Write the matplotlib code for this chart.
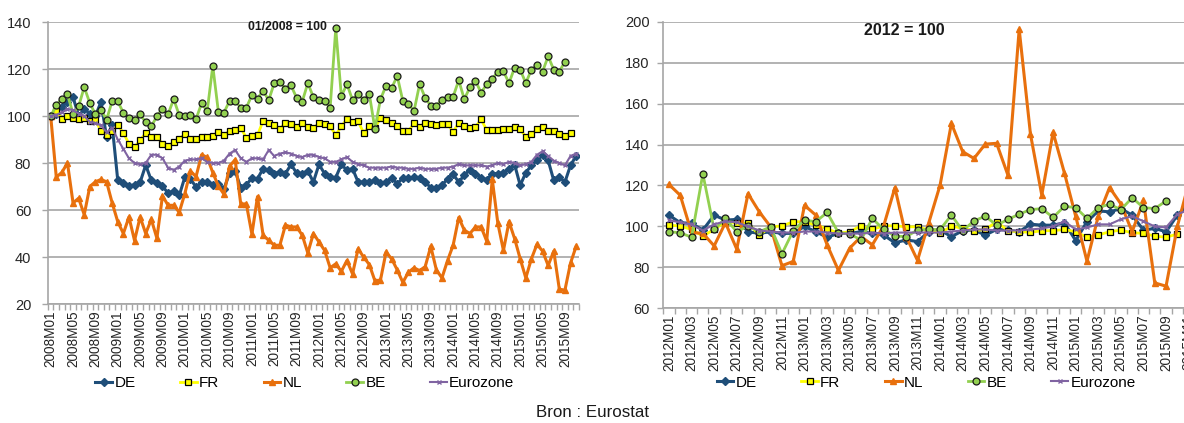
"""
Index chart: DE, FR, NL, BE, Eurozone (links 01/2008 = 100, rechts 2012 = 100)
"""

import numpy as np
import pandas as pd
import matplotlib
matplotlib.use("Agg")
import matplotlib.pyplot as plt
from matplotlib import font_manager

# --- data links: 2008M01 - 2015M11 ---
months_left = [p.strftime("%YM%m") for p in pd.period_range("2008-01", "2015-11", freq="M")]

de_left = [100, 101, 104, 106, 108, 100, 103, 101, 100, 106, 91, 96,
           72.6, 71.5, 70.1, 70.8, 71.8, 79.1, 72.6, 71.5, 70.1, 67.2, 68.1, 66.2,
           74.0, 73.2, 69.8, 71.8, 71.8, 70.5, 71.2, 69.0, 75.7, 76.6, 69.5, 70.8,
           73.5, 73.3, 77.6, 76.9, 75.5,
           76.2, 75.5, 79.4, 75.7, 75.5, 76.6, 71.9, 79.4, 75.5, 74.0, 73.8, 79.4,
           76.9, 77.6, 71.9, 71.9, 71.9, 72.6, 71.5, 71.9, 73.6, 71.2, 73.6, 73.6,
           74.0, 73.8, 71.9, 69.5, 69.5, 70.5, 73.3, 75.2, 71.9, 74.8, 77.2, 75.2,
           73.8, 72.9, 75.5, 75.5, 75.9, 77.6, 79.3, 70.5, 75.9, 79.0, 81.1, 83.3,
           81.1, 72.6, 74.0, 71.9, 79.0, 83.0]
fr_left = [100, 102, 98.9, 100, 99.3, 98.6, 99.3, 97.9, 98.2, 93.6, 92.1, 93.6,
           96.2, 92.8, 88.2, 86.8, 89.6, 92.8, 91.2, 91.1, 88.2, 87.2, 88.9, 90.4,
           92.2, 90.4, 90.2, 91.1, 91.2, 91.6, 93.3, 92.1, 93.5, 94.2, 94.9, 90.8,
           91.3, 91.8, 98.0, 97.0, 96.0,
           94.6, 97.2, 96.7, 95.3, 97.2, 95.3, 94.8, 97.0, 96.7, 95.6, 91.9, 95.6,
           98.7, 97.3, 97.7, 92.8, 95.7, 94.9, 99.0, 98.4, 96.9, 95.7, 93.5, 93.5,
           96.9, 95.3, 97.2, 96.5, 96.3, 96.5, 96.5, 93.3, 97.0, 95.7, 94.9, 95.3,
           98.6, 94.0, 94.0, 94.0, 94.6, 94.5, 95.2, 94.3, 91.2, 92.2, 94.3, 95.2,
           93.8, 93.5, 92.3, 91.5, 92.8]
nl_left = [100, 74, 76, 80, 63, 65, 58, 70, 72, 73, 72, 63,
           55, 50, 57, 47, 57, 50, 56, 48, 66, 62, 62, 59,
           67, 76.6, 74.2, 83.5, 82.4, 75.9, 70.2, 66.7, 78.7, 81.4, 62.6, 62.6,
           49.7, 65.7, 49.3, 47.1, 45,
           45, 53.6, 52.8, 52.8, 49.3, 41.7, 50, 46.4, 42.8, 35.4, 37.1, 33.9,
           38.5, 32.8, 43.5, 39.9, 36.8, 29.9, 30.2, 42.1, 39.2, 34.5, 29.2, 33.5,
           35.4, 34.2, 35.9, 44.5, 34.5, 31.1, 38.5, 45, 56.8, 51.4, 50, 52.8,
           52.8, 46.8, 73, 54.3, 42.8, 55, 47.8, 39.2, 31.1, 39.2, 45.4, 42.5,
           36.4, 42.5, 26.3, 25.9, 37.4, 44.5]
be_left = [100, 104.5, 107.4, 109.2, 101, 104.1, 112.3, 105.5, 100.7, 102.7, 98.4, 106.4,
           106.2, 101.4, 99.3, 98.4, 100.7, 97.3, 95.6, 99.9, 103.1, 100.7, 107.2, 100.3,
           100.1, 100.6, 98.7, 105.4, 102.1, 121.3, 101.8, 101.4, 106.5, 106.5, 103.5, 103.5,
           108.9, 107.4, 110.8, 106.7, 114.0, 114.6, 111.6, 113.0, 107.7, 106.1, 114.0, 108.0,
           106.9, 106.2, 103.5, 137.3, 108.4, 113.6, 106.8, 109.4, 106.8, 109.4, 94.6, 107.1,
           112.9, 111.9, 117.0, 106.4, 105.2, 102.1, 113.5, 107.8, 104.3, 104.3, 107.0, 108.0,
           108.2, 115.2, 107.1, 112.3, 115.0, 109.9, 113.5, 115.9, 118.7, 119.0, 114.0, 120.6,
           119.7, 114.0, 119.7, 121.6, 118.9, 125.4, 119.7, 118.9, 123.1]
ez_left = [100, 100.5, 101.5, 103, 102.5, 101, 100, 97.5, 97, 96, 93, 95,
           90, 86, 82, 80, 79.5, 80, 83.5, 83.5, 82, 78, 77, 78.5,
           81, 81.5, 81.5, 82, 80.5, 80, 80, 81, 84, 85.5, 82, 80.5,
           82, 82, 81.5, 85.5, 83,
           84, 84.5, 84, 83, 82.5, 83.5, 83.5, 82.5, 82, 80.5, 80.5, 81.5,
           82.5, 80.5, 79.5, 79, 78, 78, 78, 78, 78.5, 78, 78, 77.5,
           77.5, 78, 77.5, 77.5, 77.5, 78, 78, 78.5, 79.5, 79, 79, 79,
           79, 78.5, 79, 80, 79.5, 80.5, 80, 79, 79.5, 80.5, 83.5, 85,
           83, 81, 80, 79, 83, 84]

# --- data rechts: 2012M01 - 2015M11 ---
months_right = [p.strftime("%YM%m") for p in pd.period_range("2012-01", "2015-11", freq="M")]

de_right = [105.5, 101.8, 101.5, 98.2, 105.5, 103.1, 103.4, 97.4, 96.6, 97.4, 96.6, 96.6,
            100, 97.4, 94.7, 96.6, 96.6, 97.4, 96.6, 95.8, 92.0, 93.4, 92.6, 97.4,
            98.2, 95, 97.9, 98.2, 95.8, 98.5, 98.2, 97.4, 101.1, 100.6, 100.6, 101.8,
            93.1, 102.3, 107.6, 107.1, 108.7, 105.5, 98.2, 99, 97.4, 105.5, 111]
fr_right = [100.6, 100.2, 98.5, 95.3, 98.5, 102.3, 101.8, 101.5, 95.8, 99.8, 100.2, 102.3,
            102.3, 100.6, 98.9, 96.6, 97.4, 100.3, 98.5, 100.3, 100.3, 99.8, 99.8, 98.2,
            96.6, 100.2, 99, 97.9, 98.5, 102.3, 97.9, 97.4, 97.1, 97.9, 97.9, 98.5,
            97.4, 94.7, 95.8, 97.4, 98.2, 96.9, 96.6, 95.3, 94.7, 96.3]
nl_right = [120.5, 115.2, 97, 96.6, 90.5, 101.8, 88.9, 116, 107.1, 99.8, 80.8, 82.9,
            110.3, 105.5, 91, 78.5, 89.4, 95, 91, 100.2, 118.9, 95, 83.4, 101.8,
            120.2, 150.3, 136.5, 133.2, 140.2, 140.6, 125.1, 196.3, 145, 115.3, 145.9, 126.2,
            105, 83, 105, 119, 111, 97.4, 112.7, 72.4, 70.8, 100, 121]
be_right = [97.4, 96.9, 94.7, 125.7, 98.5, 103.9, 97.4, 100.2, 97.4, 99.8, 86.6, 97.9,
            103.1, 102.3, 106.8, 96.9, 96.3, 93.4, 103.9, 98.5, 95.3, 95, 98.2, 98.5,
            98.5, 105.5, 97.9, 102.7, 105, 100.6, 103.4, 106, 108.2, 108.7, 104.4, 109.8,
            109.2, 103.9, 109.2, 110.8, 108.2, 114, 109.2, 108.7, 112.4]
ez_right = [103, 102, 101, 98, 101, 102.5, 102, 100, 98, 97.5, 97, 97,
            97.5, 97.5, 97, 96.5, 96.5, 96.5, 97, 96.5, 97, 97, 97, 97,
            97, 97.5, 98, 98.5, 98.5, 98, 98, 98, 98.5, 99, 100, 102.5,
            98.5, 99.5, 101, 101, 103.5, 105, 102.5, 100, 99.5, 106, 108]

series_names = ["DE", "FR", "NL", "BE", "Eurozone"]

# stijl per reeks
styles = {
    "DE": dict(color="#1f4e79", marker="D", mfc="#1f4e79", mec="#1f4e79", lw=2.2, ms=3.6),
    "FR": dict(color="#ffff00", marker="s", mfc="#ffff00", mec="#000000", lw=2.0, ms=5.0),
    "NL": dict(color="#e8700d", marker="^", mfc="#e8700d", mec="#e8700d", lw=2.2, ms=5.0),
    "BE": dict(color="#92d050", marker="o", mfc="#92d050", mec="#1a1a1a", lw=2.0, ms=5.0),
    "Eurozone": dict(color="#8064a2", marker="x", mfc="#8064a2", mec="#8064a2", lw=1.5, ms=3.5),
}

available = {f.name for f in font_manager.fontManager.ttflist}
NARROW = "Liberation Sans Narrow" if "Liberation Sans Narrow" in available else "Liberation Sans"
plt.rcParams["font.family"] = [NARROW, "DejaVu Sans"]

GRID = "#a6a6a6"
TXT = "#262626"


def style_axes(ax, n, step, ymin, ymax, ystep, ypad):
    ax.set_xlim(-0.5, n - 0.5)
    ax.set_ylim(ymin, ymax)
    ax.set_yticks(np.arange(ymin, ymax + 1, ystep))
    ax.yaxis.grid(True, color=GRID, lw=1.2)
    ax.set_axisbelow(True)
    for s in ["top", "right"]:
        ax.spines[s].set_visible(False)
    for s in ["left", "bottom"]:
        ax.spines[s].set_color(GRID)
        ax.spines[s].set_linewidth(1.2)
    ax.set_xticks(np.arange(0, n, step))
    ax.set_xticks(np.arange(-0.5, n, 1), minor=True)
    ax.tick_params(axis="x", which="major", length=0, pad=4.5, labelsize=9.8,
                   labelrotation=90, labelcolor=TXT)
    ax.tick_params(axis="x", which="minor", length=4, color=GRID, width=1)
    ax.tick_params(axis="y", length=4, color=GRID, width=1, labelsize=10.5,
                   labelcolor=TXT, pad=ypad)


def draw(ax, data, months, step):
    for name, vals in zip(series_names, data):
        st = styles[name]
        ax.plot(np.arange(len(vals)), vals, color=st["color"], lw=st["lw"],
                marker=st["marker"], ms=st["ms"], mfc=st["mfc"], mec=st["mec"],
                mew=0.9 if name in ("FR", "BE") else 1.0, label=name)
    ax.set_xticklabels(months[::step])


fig = plt.figure(figsize=(11.84, 4.23), dpi=100)

ax1 = fig.add_axes([47.9 / 1184, 1 - 304 / 423, 531 / 1184, 282 / 423])
style_axes(ax1, len(months_left), 4, 20, 140, 20, ypad=8)
draw(ax1, [de_left, fr_left, nl_left, be_left, ez_left], months_left, 4)
ax1.text(0.452, 0.982, "01/2008 = 100", transform=ax1.transAxes, ha="center",
         va="center", fontsize=8.8, fontweight="bold", color="#1a1a1a")

ax2 = fig.add_axes([663.3 / 1184, 1 - 308.3 / 423, 531 / 1184, 286.6 / 423])
style_axes(ax2, len(months_right), 2, 60, 200, 20, ypad=6)
draw(ax2, [de_right, fr_right, nl_right, be_right, ez_right], months_right, 2)
ax2.text(0.453, 0.971, "2012 = 100", transform=ax2.transAxes, ha="center",
         va="center", fontsize=11.5, fontweight="bold", color="#1a1a1a")

for ax, cx, cy in [(ax1, 0.484, -0.28), (ax2, 0.495, -0.26)]:
    ax.legend(loc="center", bbox_to_anchor=(cx, cy), ncol=5, frameon=False,
              fontsize=11, handlelength=1.1, handletextpad=0.15, columnspacing=2.9,
              borderaxespad=0)

fig.text(592 / 1184, 1 - 412 / 423, "Bron : Eurostat", ha="center", va="center",
         fontsize=12.2, color="#1a1a1a")

fig.savefig("out.png", dpi=100)
